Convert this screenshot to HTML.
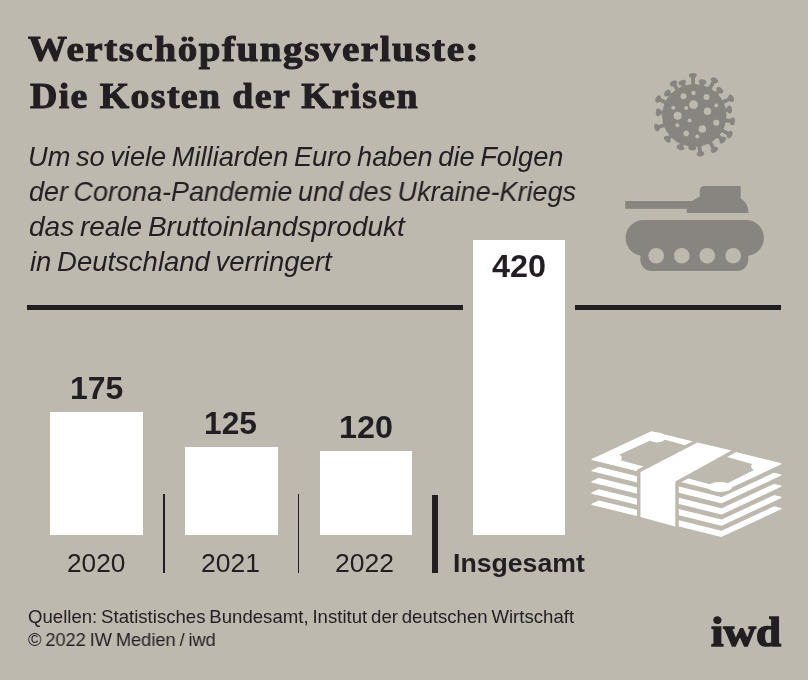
<!DOCTYPE html>
<html><head><meta charset="utf-8"><title>Wertschöpfungsverluste</title>
<style>
html,body{margin:0;padding:0;background:#bdb9af;}
#c{position:relative;width:808px;height:680px;overflow:hidden;background:#bdb9af;}
.t{position:absolute;white-space:nowrap;color:#221e21;transform-origin:0 0;will-change:transform;}
.b{position:absolute;background:#fff;}
.k{position:absolute;background:#221e21;}
svg{position:absolute;left:0;top:0;}
</style></head><body>
<div id="c">
<div class="k" style="left:27.2px;top:305.1px;width:435.8px;height:4.7px"></div>
<div class="k" style="left:574.8px;top:305.1px;width:206px;height:4.7px"></div>
<div class="b" style="left:50.1px;top:412.2px;width:92.7px;height:123.2px"></div>
<div class="b" style="left:185px;top:447.2px;width:92.5px;height:88.2px"></div>
<div class="b" style="left:320.1px;top:450.9px;width:92.1px;height:84.5px"></div>
<div class="b" style="left:472.9px;top:240px;width:92.1px;height:295.4px"></div>
<div class="k" style="left:163px;top:494px;width:1.6px;height:79px"></div>
<div class="k" style="left:297.5px;top:494px;width:1.6px;height:79px"></div>
<div class="k" style="left:432.3px;top:494.5px;width:5.3px;height:78px"></div>
<svg width="808" height="680" viewBox="0 0 808 680">
<ellipse cx="694.3" cy="115.5" rx="32.2" ry="31.3" fill="#888580"/>
<polygon points="697.49,86.87 695.06,83.45 694.80,76.02 691.00,76.15 691.27,83.59 689.09,87.17" fill="#888580"/>
<ellipse cx="692.88" cy="75.39" rx="2.5" ry="3.9" transform="rotate(-92.0 692.88 75.39)" fill="#888580"/>
<polygon points="688.45,87.29 685.09,84.80 684.29,82.61 680.72,83.91 681.52,86.10 680.56,90.18" fill="#888580"/>
<ellipse cx="682.26" cy="82.60" rx="2.5" ry="3.9" transform="rotate(-110.1 682.26 82.60)" fill="#888580"/>
<polygon points="682.30,89.31 678.47,87.63 675.43,82.95 672.25,85.02 675.28,89.70 675.26,93.88" fill="#888580"/>
<ellipse cx="673.46" cy="83.40" rx="2.5" ry="3.9" transform="rotate(-123.0 673.46 83.40)" fill="#888580"/>
<polygon points="675.14,93.99 670.98,93.51 669.11,91.94 666.67,94.85 668.54,96.42 669.75,100.43" fill="#888580"/>
<ellipse cx="667.35" cy="92.95" rx="2.5" ry="3.9" transform="rotate(-140.1 667.35 92.95)" fill="#888580"/>
<polygon points="670.10,99.87 665.96,100.52 659.55,97.60 657.97,101.06 664.39,103.98 666.62,107.52" fill="#888580"/>
<ellipse cx="658.12" cy="99.04" rx="2.5" ry="3.9" transform="rotate(-155.5 658.12 99.04)" fill="#888580"/>
<polygon points="666.29,108.76 662.60,110.74 659.19,110.44 658.85,114.22 662.26,114.53 665.54,117.13" fill="#888580"/>
<ellipse cx="658.32" cy="112.26" rx="2.5" ry="3.9" transform="rotate(-174.9 658.32 112.26)" fill="#888580"/>
<polygon points="665.88,120.20 663.25,123.46 656.84,125.51 658.00,129.13 664.41,127.07 668.44,128.20" fill="#888580"/>
<ellipse cx="656.75" cy="127.53" rx="2.5" ry="3.9" transform="rotate(162.2 656.75 127.53)" fill="#888580"/>
<polygon points="670.12,131.16 669.01,135.20 666.59,137.33 669.10,140.18 671.52,138.05 675.67,137.47" fill="#888580"/>
<ellipse cx="667.32" cy="139.22" rx="2.5" ry="3.9" transform="rotate(138.7 667.32 139.22)" fill="#888580"/>
<polygon points="679.13,139.99 679.85,144.11 679.01,146.05 682.49,147.56 683.33,145.62 686.83,143.32" fill="#888580"/>
<ellipse cx="680.47" cy="147.45" rx="2.5" ry="3.9" transform="rotate(113.4 680.47 147.45)" fill="#888580"/>
<polygon points="688.28,143.67 690.35,147.31 690.36,147.18 694.15,147.42 694.14,147.56 696.66,144.21" fill="#888580"/>
<ellipse cx="692.21" cy="148.00" rx="2.5" ry="3.9" transform="rotate(93.7 692.21 148.00)" fill="#888580"/>
<polygon points="694.71,144.30 697.54,147.39 698.53,153.52 702.28,152.91 701.29,146.79 703.00,142.96" fill="#888580"/>
<ellipse cx="700.51" cy="153.91" rx="2.5" ry="3.9" transform="rotate(80.8 700.51 153.91)" fill="#888580"/>
<polygon points="705.11,142.20 708.86,144.06 712.43,150.14 715.71,148.22 712.14,142.13 712.35,137.95" fill="#888580"/>
<ellipse cx="714.42" cy="149.78" rx="2.5" ry="3.9" transform="rotate(59.6 714.42 149.78)" fill="#888580"/>
<polygon points="717.43,132.67 721.60,132.30 728.22,135.85 730.02,132.50 723.40,128.95 721.40,125.27" fill="#888580"/>
<ellipse cx="729.74" cy="134.50" rx="2.5" ry="3.9" transform="rotate(28.2 729.74 134.50)" fill="#888580"/>
<polygon points="721.85,123.92 725.65,122.17 731.46,123.05 732.02,119.29 726.22,118.41 723.11,115.61" fill="#888580"/>
<ellipse cx="732.43" cy="121.27" rx="2.5" ry="3.9" transform="rotate(8.6 732.43 121.27)" fill="#888580"/>
<polygon points="723.10,114.85 726.16,112.00 729.13,111.49 728.49,107.75 725.53,108.25 721.69,106.57" fill="#888580"/>
<ellipse cx="729.50" cy="109.50" rx="2.5" ry="3.9" transform="rotate(-9.7 729.50 109.50)" fill="#888580"/>
<polygon points="721.91,107.27 724.11,103.70 731.32,100.34 729.71,96.90 722.50,100.26 718.36,99.65" fill="#888580"/>
<ellipse cx="731.15" cy="98.32" rx="2.5" ry="3.9" transform="rotate(-25.0 731.15 98.32)" fill="#888580"/>
<polygon points="717.49,98.40 718.35,94.30 720.68,91.99 718.00,89.29 715.67,91.61 711.57,92.44" fill="#888580"/>
<ellipse cx="719.84" cy="90.15" rx="2.5" ry="3.9" transform="rotate(-44.8 719.84 90.15)" fill="#888580"/>
<polygon points="712.08,92.84 711.82,88.66 715.75,81.78 712.45,79.90 708.52,86.77 704.79,88.67" fill="#888580"/>
<ellipse cx="714.45" cy="80.23" rx="2.5" ry="3.9" transform="rotate(-60.3 714.45 80.23)" fill="#888580"/>
<polygon points="705.17,88.82 703.78,84.88 704.22,83.07 700.53,82.17 700.08,83.97 697.02,86.82" fill="#888580"/>
<ellipse cx="702.54" cy="81.94" rx="2.5" ry="3.9" transform="rotate(-76.2 702.54 81.94)" fill="#888580"/>
<polygon points="713.14,137.29 717.29,137.84 720.90,140.95 723.38,138.07 719.77,134.96 718.62,130.93" fill="#888580"/>
<ellipse cx="722.67" cy="139.97" rx="2.5" ry="3.9" transform="rotate(40.8 722.67 139.97)" fill="#888580"/>
<circle cx="693.53" cy="104.71" r="4.4" fill="#bdb9af"/>
<circle cx="683.53" cy="96.18" r="3" fill="#bdb9af"/>
<circle cx="693.53" cy="92.94" r="2.2" fill="#bdb9af"/>
<circle cx="706.47" cy="97.06" r="3" fill="#bdb9af"/>
<circle cx="716.32" cy="105.44" r="2" fill="#bdb9af"/>
<circle cx="707.50" cy="111.32" r="3.7" fill="#bdb9af"/>
<circle cx="673.24" cy="107.65" r="2" fill="#bdb9af"/>
<circle cx="686.18" cy="107.94" r="2" fill="#bdb9af"/>
<circle cx="677.65" cy="115.74" r="4" fill="#bdb9af"/>
<circle cx="689.56" cy="120.59" r="2" fill="#bdb9af"/>
<circle cx="716.32" cy="122.79" r="3" fill="#bdb9af"/>
<circle cx="702.35" cy="128.97" r="3.8" fill="#bdb9af"/>
<circle cx="677.35" cy="125.29" r="2" fill="#bdb9af"/>
<circle cx="686.18" cy="133.38" r="2.8" fill="#bdb9af"/>
<circle cx="697.21" cy="136.62" r="2" fill="#bdb9af"/>
<rect x="625.2" y="201" width="70" height="7.8" fill="#888580"/>
<path d="M686.8 213 L686.8 201 L692 201 L699.8 196.5 L699.8 191 Q699.8 186 704.8 186 L740.7 186 L740.7 198.6 Q748.5 203 748.5 213 Z" fill="#888580"/>
<rect x="625.6" y="219.9" width="138.3" height="36" rx="18" ry="18" fill="#888580"/>
<rect x="640.4" y="236" width="107.8" height="35" rx="11" ry="11" fill="#888580"/>
<circle cx="656.2" cy="255.7" r="7.8" fill="#bdb9af"/>
<circle cx="681.8" cy="255.7" r="7.8" fill="#bdb9af"/>
<circle cx="707.2" cy="255.7" r="7.8" fill="#bdb9af"/>
<circle cx="733.2" cy="255.7" r="7.8" fill="#bdb9af"/>
<polygon points="592.00,504.30 651.50,476.60 781.00,508.60 721.50,536.30" fill="#ffffff" stroke="#ffffff" stroke-width="1.2" stroke-linejoin="round"/>
<polygon points="592.00,498.10 651.50,470.40 781.00,502.40 721.50,530.10" fill="#bdb9af" stroke="#bdb9af" stroke-width="1.2" stroke-linejoin="round"/>
<polygon points="592.00,493.10 651.50,465.40 781.00,497.40 721.50,525.10" fill="#ffffff" stroke="#ffffff" stroke-width="1.2" stroke-linejoin="round"/>
<polygon points="592.00,486.90 651.50,459.20 781.00,491.20 721.50,518.90" fill="#bdb9af" stroke="#bdb9af" stroke-width="1.2" stroke-linejoin="round"/>
<polygon points="592.00,481.90 651.50,454.20 781.00,486.20 721.50,513.90" fill="#ffffff" stroke="#ffffff" stroke-width="1.2" stroke-linejoin="round"/>
<polygon points="592.00,475.70 651.50,448.00 781.00,480.00 721.50,507.70" fill="#bdb9af" stroke="#bdb9af" stroke-width="1.2" stroke-linejoin="round"/>
<polygon points="592.00,470.70 651.50,443.00 781.00,475.00 721.50,502.70" fill="#ffffff" stroke="#ffffff" stroke-width="1.2" stroke-linejoin="round"/>
<polygon points="592.00,464.50 651.50,436.80 781.00,468.80 721.50,496.50" fill="#bdb9af" stroke="#bdb9af" stroke-width="1.2" stroke-linejoin="round"/>
<polygon points="592.00,459.50 651.50,431.80 781.00,463.80 721.50,491.50" fill="#ffffff" stroke="#ffffff" stroke-width="1.2" stroke-linejoin="round"/>
<polygon points="612,458 657,437.5 761,466.5 720,487" fill="#bdb9af"/>
<ellipse cx="612" cy="458" rx="10" ry="5" fill="#ffffff"/>
<ellipse cx="657" cy="437.5" rx="8.5" ry="5" fill="#ffffff"/>
<ellipse cx="761" cy="466.5" rx="10" ry="5" fill="#ffffff"/>
<ellipse cx="720" cy="487" rx="12" ry="5" fill="#ffffff"/>
<polygon points="697.5,442.6 731.5,450.5 675.3,481.5 675.3,526.5 640.5,517.1 640.5,472" fill="#bdb9af" stroke="#bdb9af" stroke-width="7" stroke-linejoin="miter"/>
<polygon points="697.5,442.6 731.5,450.5 675.3,481.5 675.3,526.5 640.5,517.1 640.5,472" fill="#ffffff"/>
</svg>
<div class="t" style="left:28.01px;top:31.35px;font:normal bold 36.0px/36px 'Liberation Serif',serif;transform:scaleX(1.0862);-webkit-text-stroke:1.0px #221e21;letter-spacing:1.4px">Wertschöpfungsverluste:</div>
<div class="t" style="left:29.53px;top:77.75px;font:normal bold 36.0px/36px 'Liberation Serif',serif;transform:scaleX(1.0522);-webkit-text-stroke:1.0px #221e21;letter-spacing:1.3px">Die Kosten der Krisen</div>
<div class="t" style="left:27.89px;top:142.87px;font:italic normal 27.2px/27px 'Liberation Sans',sans-serif;transform:scaleX(1.0017);word-spacing:-2.0px">Um so viele Milliarden Euro haben die Folgen</div>
<div class="t" style="left:28.69px;top:177.77px;font:italic normal 27.2px/27px 'Liberation Sans',sans-serif;transform:scaleX(0.9926);word-spacing:-2.0px">der Corona-Pandemie und des Ukraine-Kriegs</div>
<div class="t" style="left:28.66px;top:212.77px;font:italic normal 27.2px/27px 'Liberation Sans',sans-serif;transform:scaleX(1.0303);word-spacing:-2.0px">das reale Bruttoinlandsprodukt</div>
<div class="t" style="left:29.59px;top:247.67px;font:italic normal 27.2px/27px 'Liberation Sans',sans-serif;transform:scaleX(1.0114);word-spacing:-2.0px">in Deutschland verringert</div>
<div class="t" style="left:69.59px;top:372.83px;font:normal bold 30.5px/30px 'Liberation Sans',sans-serif;transform:scaleX(1.0464)">175</div>
<div class="t" style="left:204.30px;top:407.83px;font:normal bold 30.5px/30px 'Liberation Sans',sans-serif;transform:scaleX(1.0402)">125</div>
<div class="t" style="left:338.96px;top:411.53px;font:normal bold 30.5px/30px 'Liberation Sans',sans-serif;transform:scaleX(1.0593)">120</div>
<div class="t" style="left:491.71px;top:250.73px;font:normal bold 30.5px/30px 'Liberation Sans',sans-serif;transform:scaleX(1.0623)">420</div>
<div class="t" style="left:66.79px;top:550.49px;font:normal normal 26.0px/26px 'Liberation Sans',sans-serif;transform:scaleX(1.0090)">2020</div>
<div class="t" style="left:200.98px;top:550.49px;font:normal normal 26.0px/26px 'Liberation Sans',sans-serif;transform:scaleX(1.0192)">2021</div>
<div class="t" style="left:335.48px;top:550.49px;font:normal normal 26.0px/26px 'Liberation Sans',sans-serif;transform:scaleX(1.0192)">2022</div>
<div class="t" style="left:452.77px;top:549.61px;font:normal bold 26.5px/26px 'Liberation Sans',sans-serif;transform:scaleX(1.0059)">Insgesamt</div>
<div class="t" style="left:27.76px;top:607.69px;font:normal normal 18.5px/18px 'Liberation Sans',sans-serif;transform:scaleX(1.0050);word-spacing:-1.3px">Quellen: Statistisches Bundesamt, Institut der deutschen Wirtschaft</div>
<div class="t" style="left:28.33px;top:630.69px;font:normal normal 18.5px/18px 'Liberation Sans',sans-serif;transform:scaleX(0.9875);word-spacing:-1.3px">© 2022 IW Medien / iwd</div>
<div class="t" style="left:711.40px;top:610.56px;font:normal bold 42.5px/42px 'Liberation Serif',serif;transform:scaleX(1.0584);-webkit-text-stroke:1.5px #221e21">iwd</div>
</div>
</body></html>
